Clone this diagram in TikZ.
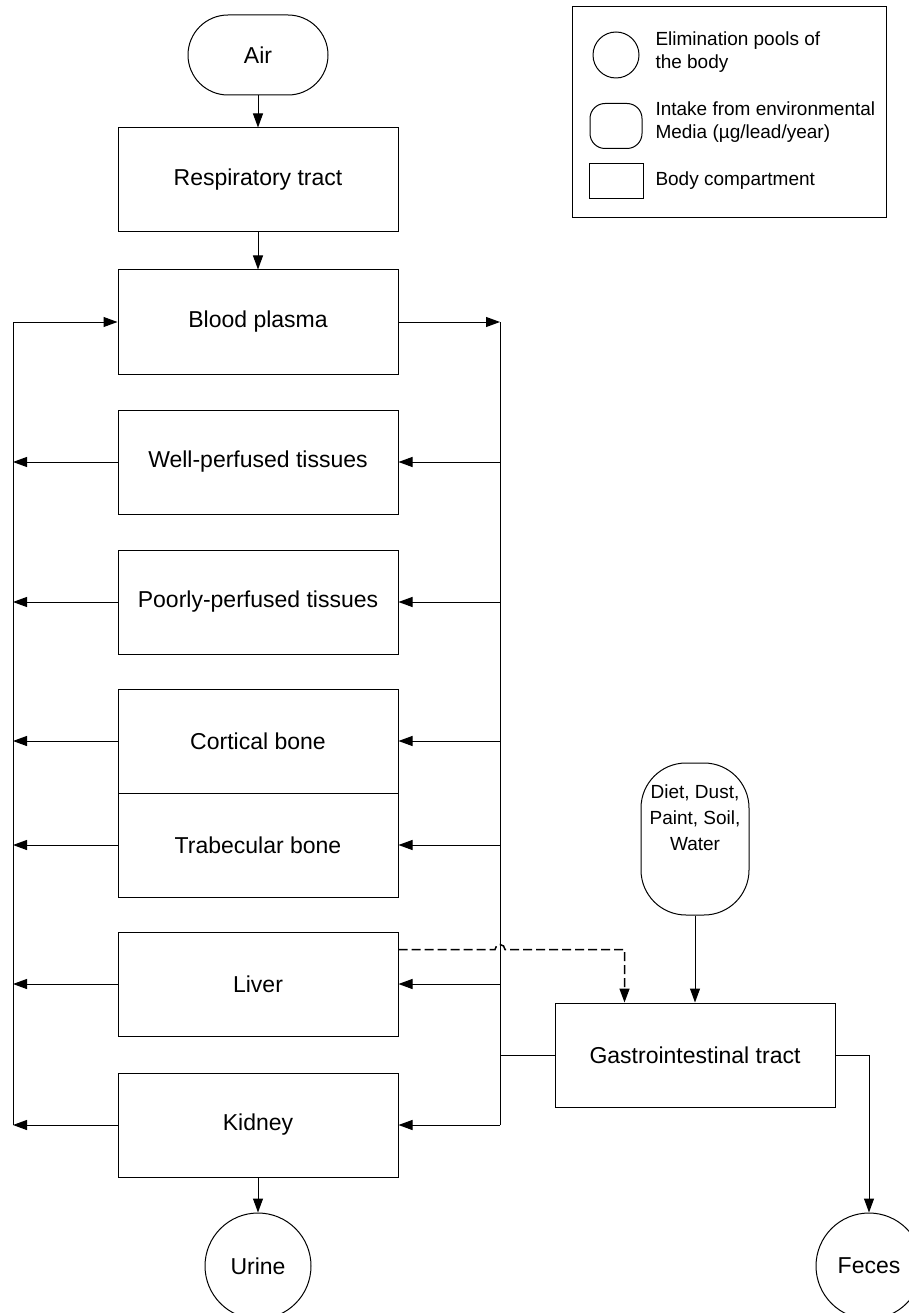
\documentclass[tikz,border=0pt]{standalone}
\usepackage{fontspec}
\setmainfont{Liberation Sans}
\usetikzlibrary{arrows.meta, shapes, positioning, calc}

\begin{document}
\begin{tikzpicture}[x=1pt,y=-1pt,>={Triangle[length=14pt,width=10pt]},
            line width=1pt,
            comp/.style={draw, rectangle, inner sep=0pt, minimum width=280pt, minimum height=104pt, font=\fontsize{23}{27}\selectfont},
            intake/.style={draw, rectangle, inner sep=0pt, rounded corners=40pt, align=center},
            pool/.style={draw, circle, inner sep=0pt, minimum size=106pt, font=\fontsize{23}{27}\selectfont},
            legtext/.style={anchor=west, align=left, inner sep=0pt, font=\fontsize{19}{23}\selectfont}]
    \useasboundingbox (0,0) rectangle (909,1313);

    % body compartments
    \node [intake, minimum width=140pt, minimum height=80pt, font=\fontsize{23}{27}\selectfont] at (258,55) (air) {Air};
    \node [comp] at (258,180) (resp) {Respiratory tract};
    \node [comp] at (258,322) (plasma) {Blood plasma};
    \node [comp] at (258,462) (well) {Well-perfused tissues};
    \node [comp] at (258,602) (poor) {Poorly-perfused tissues};
    \node [comp] at (258,741) (cort) {Cortical bone};
    \node [comp] at (258,845) (trab) {Trabecular bone};
    \node [comp] at (258,984) (liver) {Liver};
    \node [comp] at (258,1125) (kidney) {Kidney};
    \node [pool] at (258,1266) (urine) {Urine};

    \node [intake, minimum width=108pt, minimum height=152pt, rounded corners=45pt, text depth=42pt, font=\fontsize{19}{26}\selectfont] at (695,839) (diet) {Diet, Dust,\\Paint, Soil,\\Water};
    \node [comp] at (695,1055) (gi) {Gastrointestinal tract};
    \node [pool] at (869,1266) (feces) {Feces};

    % legend
    \node [draw, rectangle, minimum width=314pt, minimum height=211pt] at (729,112.5) (legend) {};
    \node [draw, circle, minimum size=46pt, inner sep=0pt] at (616,55) (legpool) {};
    \node [draw, rectangle, rounded corners=15pt, minimum width=52pt, minimum height=45pt] at (616,126) (legintake) {};
    \node [draw, rectangle, minimum width=54pt, minimum height=35pt] at (616,181) (legcomp) {};
    \node [legtext] at (655,52) (legpooltxt) {Elimination pools of\\the body};
    \node [legtext] at (655,122) (legintaketxt) {Intake from environmental\\Media (µg/lead/year)};
    \node [legtext] at (655,181) (legcomptxt) {Body compartment};

    % buses
    \coordinate (lb) at (13,322);
    \coordinate (rb) at (500,322);

    \draw [->] (air) -- (resp);
    \draw [->] (resp) -- (plasma);
    \draw [->] (kidney) -- (urine);

    \draw (lb) -- (lb |- kidney.west);
    \draw [->] (lb) -- (plasma.west);
    \foreach \comp in {well, poor, cort, trab, liver, kidney}
        \draw [->] (\comp.west) -- (lb |- \comp.west);

    \draw [->] (plasma.east) -- (rb);
    \draw (rb) -- (rb |- kidney.east);
    \foreach \comp in {well, poor, cort, trab, liver, kidney}
        \draw [->] (rb |- \comp.east) -- (\comp.east);

    \draw (gi.west) -- (gi.west -| rb);
    \draw [->] (gi.east) -| (feces.north);
    \draw [->] (diet.south) -- (gi.north);

    % liver to gut (dashed, jumps over the bus)
    \coordinate (lvout) at ($(liver.north east)+(0,18)$);
    \coordinate (gidash) at ($(gi.north west)+(70,0)$);
    \draw [->, dash pattern=on 9pt off 4pt, line width=1.5pt]
        (lvout) -- ($(lvout -| rb)+(-5,0)$) arc (180:360:5) -- (lvout -| gidash) -- (gidash);
\end{tikzpicture}
\end{document}
